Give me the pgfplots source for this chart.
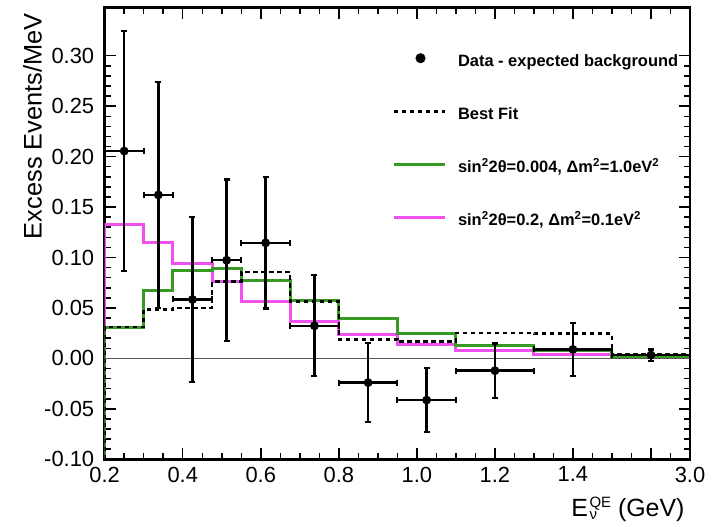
\documentclass[border=0pt]{standalone}
\usepackage{pgfplots}
\pgfplotsset{compat=1.18}
\usepackage{fontspec}
\setmainfont{Liberation Sans}

\definecolor{fitgreen}{RGB}{55,155,35}
\definecolor{fitpink}{RGB}{240,80,240}
\definecolor{zeroline}{RGB}{90,90,90}

% Oscillation predictions and best fit, step histograms (bin edges in GeV;
% the last bin 1.5--3.0 GeV is drawn compressed into 1.5--1.7)
\pgfplotstableread{
x      y
0.2    -0.1
0.2    0.133
0.3    0.115
0.375  0.094
0.475  0.076
0.55   0.056
0.675  0.037
0.8    0.024
0.95   0.014
1.1    0.0078
1.3    0.0034
1.5    0.0018
1.7    0.0018
}\pinkhist
\pgfplotstableread{
x      y
0.2    -0.1
0.2    0.031
0.3    0.0676
0.375  0.087
0.475  0.089
0.55   0.0775
0.675  0.0577
0.8    0.0396
0.95   0.0245
1.1    0.0132
1.3    0.0075
1.5    0.0016
1.7    0.0016
}\greenhist
\pgfplotstableread{
x      y
0.2    -0.1
0.2    0.031
0.3    0.0485
0.375  0.050
0.475  0.076
0.55   0.0858
0.675  0.0565
0.8    0.019
0.95   0.0165
1.1    0.0252
1.3    0.0245
1.5    0.004
1.7    0.004
}\besthist
% Excess events with errors
\pgfplotstableread{
x       y        ex      ey
0.25    0.2055   0.05    0.119
0.3375  0.162    0.0375  0.112
0.425   0.0584   0.05    0.082
0.5125  0.0973   0.0375  0.080
0.6125  0.1145   0.0625  0.065
0.7375  0.0323   0.0625  0.050
0.875   -0.024   0.075   0.039
1.025   -0.0413  0.075   0.032
1.2     -0.0122  0.1     0.027
1.4     0.0089   0.1     0.026
1.6     0.0033   0.1     0.0055
}\excess

\begin{document}
\begin{tikzpicture}
\begin{axis}[
  at={(104.7bp,67.7bp)}, anchor=south west,
  scale only axis, width=585.3bp, height=451.6bp,
  xmin=0.2, xmax=1.7, ymin=-0.1, ymax=0.3476,
  xtick={0.2,0.4,0.6,0.8,1.0,1.2,1.4,1.6,1.7},
  xticklabels={0.2,0.4,0.6,0.8,1.0,1.2,1.4,,3.0},
  minor xtick={0.25,0.3,0.35,0.45,0.5,0.55,0.65,0.7,0.75,0.85,0.9,0.95,1.05,1.1,1.15,1.25,1.3,1.35,1.45,1.5,1.55,1.65},
  ytick={-0.10,-0.05,0,0.05,0.10,0.15,0.20,0.25,0.30},
  yticklabels={-0.10,-0.05,0.00,0.05,0.10,0.15,0.20,0.25,0.30},
  minor y tick num=4,
  major tick length=11bp, minor tick length=6bp,
  tick style={black, line width=1.5bp},
  axis line style={line width=2.7bp},
  tick label style={font=\fontsize{22}{24}\selectfont},
  yticklabel style={xshift=-7bp},
  xticklabel style={yshift=-4bp},
  /pgf/number format/assume math mode=true,
  ylabel={Excess Events/MeV},
  ylabel style={font=\fontsize{25.5}{28}\selectfont, at={(axis description cs:-0.1076,0.9956)}, anchor=base east},
  xlabel={E\kern1.5bp{\fontsize{15}{16}\selectfont\rlap{\raisebox{8.5bp}{QE}}\raisebox{-3.5bp}{\rlap{ν}}\phantom{QE}} (GeV)},
  xlabel style={font=\fontsize{25}{28}\selectfont, at={(axis description cs:0.9966,-0.1256)}, anchor=base east},
  legend style={draw=none, fill=none, inner sep=0pt, outer sep=0pt,
    at={(axis description cs:0.4909,0.8992)}, anchor=north west,
    row sep=37bp, column sep=12bp,
    font=\bfseries\fontsize{16.5}{18}\selectfont,
    nodes={inner sep=0pt, text height=12bp, text depth=4bp}},
  legend cell align=left,
]
% legend entries
\addlegendimage{legend image code/.code={\path[draw=none, fill=none] (0bp,0bp) rectangle (51bp,1bp); \fill[black] (27bp,4.3bp) circle (4.8bp);}}
\addlegendentry{Data - expected background}
\addlegendimage{legend image code/.code={\draw[black, line width=2.6bp, dash pattern=on 4.5bp off 3.5bp] (0bp,4.3bp) -- (51bp,4.3bp);}}
\addlegendentry{Best Fit}
\addlegendimage{legend image code/.code={\draw[fitgreen, line width=3bp] (0bp,4.3bp) -- (51bp,4.3bp);}}
\addlegendentry{sin\textsuperscript{2}2θ=0.004, Δm\textsuperscript{2}=1.0eV\textsuperscript{2}}
\addlegendimage{legend image code/.code={\draw[fitpink, line width=3bp] (0bp,4.3bp) -- (51bp,4.3bp);}}
\addlegendentry{sin\textsuperscript{2}2θ=0.2, Δm\textsuperscript{2}=0.1eV\textsuperscript{2}}

% zero line
\addplot[zeroline, line width=1.2bp, forget plot] coordinates {(0.2,0) (1.7,0)};
% predictions
\addplot[fitpink, line width=3bp, const plot, forget plot] table[x=x,y=y] {\pinkhist};
\addplot[fitgreen, line width=3bp, const plot, forget plot] table[x=x,y=y] {\greenhist};
\addplot[black, line width=2.6bp, dash pattern=on 4.5bp off 3.5bp, const plot, forget plot] table[x=x,y=y] {\besthist};
% data
\addplot[black, only marks, mark=*, mark size=3.8bp, line width=1.2bp, forget plot,
  error bars/.cd, x dir=both, x explicit, y dir=both, y explicit,
  error bar style={line width=2.5bp, black},
  error mark options={rotate=90, line width=2.2bp, mark size=3bp, black}]
  table[x=x, y=y, x error=ex, y error=ey] {\excess};
\end{axis}
\pgfresetboundingbox
\useasboundingbox (0bp,0bp) rectangle (717bp,527bp);
\end{tikzpicture}
\end{document}
